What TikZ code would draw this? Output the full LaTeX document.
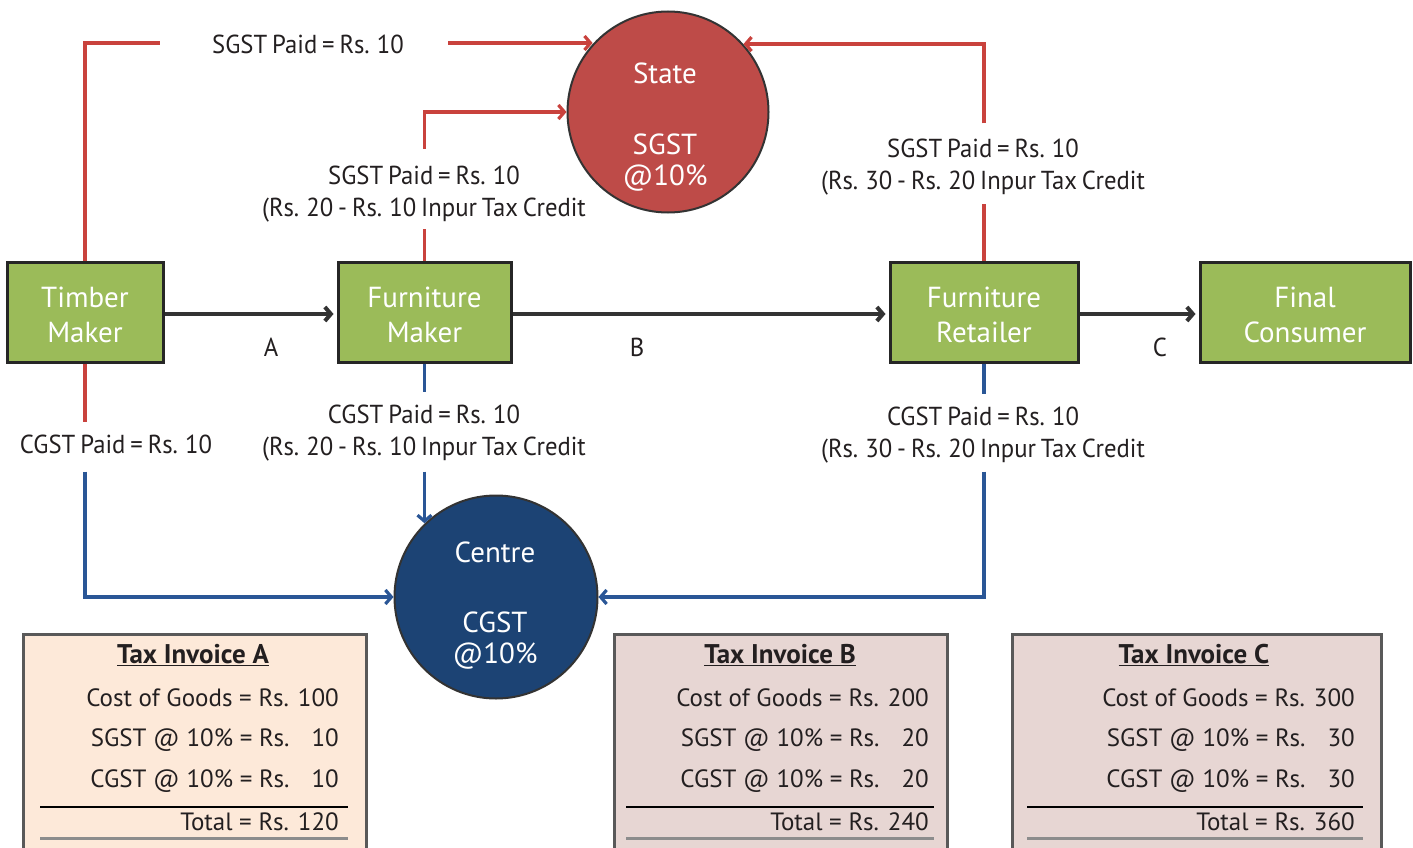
\documentclass[tikz,border=0pt]{standalone}
\usepackage{fontspec}
\setmainfont{PT Sans}
\newfontfamily\cond[FakeStretch=0.95,WordSpace=0.75]{PT Sans}
\usetikzlibrary{arrows.meta}
\definecolor{gfill}{HTML}{9BBB59}
\definecolor{sred}{HTML}{BE4B48}
\definecolor{cblue}{HTML}{1C4374}
\definecolor{lred}{HTML}{C9423D}
\definecolor{lblue}{HTML}{2A5696}
\definecolor{invA}{HTML}{FDE9D9}
\definecolor{invB}{HTML}{E7D6D3}
\definecolor{txt}{HTML}{231F20}
\definecolor{darr}{HTML}{333333}
\tikzset{
  gbox/.style={draw=black!85, line width=3pt, fill=gfill, minimum height=100pt, inner sep=0pt},
  btext/.style={text=white, align=center, font=\fontsize{29}{35}\selectfont, inner sep=0pt},
  circ/.style={circle, draw=black!80, line width=2pt, inner sep=0pt},
  ctext/.style={text=white, font=\fontsize{29}{30}\selectfont, inner sep=0pt},
  lbl/.style={text=txt, font=\cond\fontsize{26}{32}\selectfont, inner sep=0pt, align=center},
  redl/.style={draw=lred, line width=3.2pt},
  bluel/.style={draw=lblue, line width=3.2pt},
  arr/.style={-{Straight Barb[length=6pt,width=14pt]}},
  flow/.style={draw=darr, line width=4pt, arr},
  inv/.style={draw=black!65, line width=3pt, anchor=north west, inner sep=0pt},
  ttl/.style={text=txt, font=\bfseries\fontsize{27}{30}\selectfont, inner sep=0pt},
  rowt/.style={text=txt, font=\fontsize{25}{30}\selectfont, inner sep=0pt, anchor=east},
}
\begin{document}
\begin{tikzpicture}[x=1pt,y=-1pt]
\useasboundingbox (0,0) rectangle (1413,848);
% main boxes
\node[gbox, minimum width=156pt] (tm) at (85,312) {};
\node[gbox, minimum width=173pt] (fm) at (424.5,312) {};
\node[gbox, minimum width=188pt] (fr) at (984,312) {};
\node[gbox, minimum width=210pt] (fc) at (1305,312) {};
\node[btext] (tmt) at (85,315) {Timber\\Maker};
\node[btext] (fmt) at (424.5,315) {Furniture\\Maker};
\node[btext] (frt) at (984,315) {Furniture\\Retailer};
\node[btext] (fct) at (1305,315) {Final\\Consumer};
% flow arrows
\draw[flow, shorten >=3pt] ([yshift=-2pt]tm.east) -- ([yshift=-2pt]fm.west);
\draw[flow, shorten >=3pt] ([yshift=-2pt]fm.east) -- ([yshift=-2pt]fr.west);
\draw[flow, shorten >=3pt] ([yshift=-2pt]fr.east) -- ([yshift=-2pt]fc.west);
\node[lbl] (la) at (271,347) {A};
\node[lbl] (lb) at (637,347) {B};
\node[lbl] (lc) at (1160,347) {C};
% circles
\node[circ, fill=sred, minimum size=201pt] (state) at (668,112) {};
\node[ctext] (st1) at (665,73) {State};
\node[ctext] (st2) at (665,144) {SGST};
\node[ctext] (st3) at (665,178) {@10\%};
\node[circ, fill=cblue, minimum size=203pt] (centre) at (496,597) {};
\node[ctext] (ce1) at (495,552) {Centre};
\node[ctext] (ce2) at (495,622) {CGST};
\node[ctext] (ce3) at (495,656) {@10\%};
% payment labels
\node[lbl] (s1) at (308,44) {SGST Paid = Rs. 10};
\node[lbl] (s2) at (424,194) {SGST Paid = Rs. 10\\(Rs. 20 - Rs. 10 Inpur Tax Credit};
\node[lbl] (s3) at (983,167) {SGST Paid = Rs. 10\\(Rs. 30 - Rs. 20 Inpur Tax Credit};
\node[lbl] (c1) at (116,444) {CGST Paid = Rs. 10};
\node[lbl] (c2) at (424,433) {CGST Paid = Rs. 10\\(Rs. 20 - Rs. 10 Inpur Tax Credit};
\node[lbl] (c3) at (983,435) {CGST Paid = Rs. 10\\(Rs. 30 - Rs. 20 Inpur Tax Credit};
% SGST connectors
\draw[redl] (tm.north) |- ([xshift=-52pt,yshift=1pt]s1.west);
\draw[redl, arr] ([xshift=44pt,yshift=1pt]s1.east) -- ([yshift=1pt]s1.east -| state.138);
\draw[redl] (fm.north) -- ([yshift=32pt]fm.north);
\draw[redl, arr] ([yshift=112pt]fm.north) |- (state.west);
\draw[redl] (fr.north) -- ([yshift=57pt]fr.north);
\draw[redl, arr] ([yshift=137pt]fr.north) |- (state.42);
% CGST connectors
\draw[redl] (tm.south) -- ([yshift=-58pt]tm.south);
\draw[bluel, arr] ([yshift=-108pt]tm.south) |- (centre.west);
\draw[bluel] (fm.south) -- ([yshift=-28pt]fm.south);
\draw[bluel, arr] ([yshift=-108pt]fm.south) -- (fm.south |- centre.134);
\draw[bluel] (fr.south) -- ([yshift=-30pt]fr.south);
\draw[bluel, arr] ([yshift=-108pt]fr.south) |- (centre.east);
% invoices
\node[inv, fill=invA, minimum width=343pt, minimum height=230pt] (ia) at (22,633) {};
\node[inv, fill=invB, minimum width=333pt, minimum height=230pt] (ib) at (613,633) {};
\node[inv, fill=invB, minimum width=369pt, minimum height=230pt] (ic) at (1011,633) {};
% invoice A
\node[ttl] (ta) at (193,655) {\underline{Tax Invoice A}};
\node[rowt] (a1) at (339,698) {Cost of Goods = Rs. 100};
\node[rowt] (a2) at (339,740) {SGST @ 10\% = Rs.\hspace{22pt}10};
\node[rowt] (a3) at (339,781) {CGST @ 10\% = Rs.\hspace{22pt}10};
\node[rowt] (a4) at (339,822) {Total = Rs. 120};
\draw[black, line width=1.2pt] (40,807) -- (348,807);
\draw[black!45, line width=3pt] (40,838) -- (348,838);
% invoice B
\node[ttl] (tb) at (780,655) {\underline{Tax Invoice B}};
\node[rowt] (b1) at (929,698) {Cost of Goods = Rs. 200};
\node[rowt] (b2) at (929,740) {SGST @ 10\% = Rs.\hspace{22pt}20};
\node[rowt] (b3) at (929,781) {CGST @ 10\% = Rs.\hspace{22pt}20};
\node[rowt] (b4) at (929,822) {Total = Rs. 240};
\draw[black, line width=1.2pt] (626,807) -- (934,807);
\draw[black!45, line width=3pt] (626,838) -- (934,838);
% invoice C
\node[ttl] (tc) at (1194,655) {\underline{Tax Invoice C}};
\node[rowt] (c1r) at (1355,698) {Cost of Goods = Rs. 300};
\node[rowt] (c2r) at (1355,740) {SGST @ 10\% = Rs.\hspace{22pt}30};
\node[rowt] (c3r) at (1355,781) {CGST @ 10\% = Rs.\hspace{22pt}30};
\node[rowt] (c4r) at (1355,822) {Total = Rs. 360};
\draw[black, line width=1.2pt] (1027,807) -- (1363,807);
\draw[black!45, line width=3pt] (1027,838) -- (1363,838);
\end{tikzpicture}
\end{document}
